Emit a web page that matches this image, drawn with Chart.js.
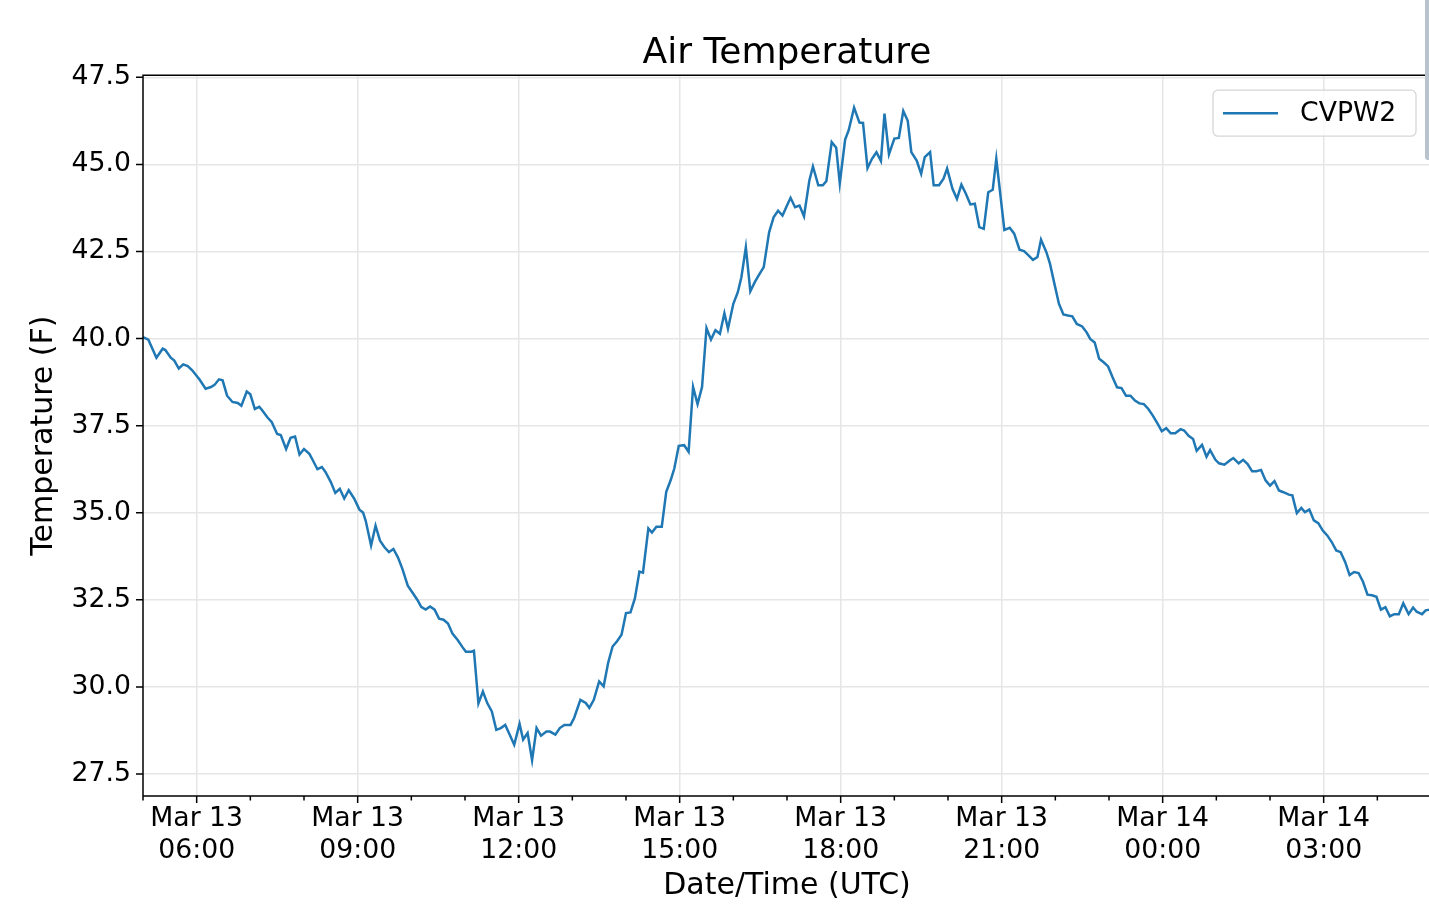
<!DOCTYPE html>
<html>
<head>
<meta charset="utf-8">
<title>Air Temperature</title>
<script src="https://cdn.jsdelivr.net/npm/chart.js@4.4.1/dist/chart.umd.min.js"></script>
<style>
    html, body { margin: 0; padding: 0; background: #fff; overflow: hidden; }
    #wrap { position: relative; width: 1440px; height: 915px; }
    #edge { position: absolute; left: 1425px; top: 0; width: 4px; height: 160px; background: #b9c3cd; border-bottom-left-radius: 3px; }
</style>
</head>
<body>
<div id="wrap">
    <canvas id="myChart" width="1440" height="915" style="width:1440px;height:915px"></canvas>
    <div id="edge"></div>
</div>
<script>
// minutes after Mar 13 05:00 UTC
var times = [
    0, 6, 15, 22, 25, 31, 35, 40, 45, 50, 55, 63, 70, 76, 80, 85, 89, 94, 100, 106,
    110, 116, 120, 125, 130, 133, 139, 144, 150, 154, 160, 165, 170, 175, 180, 186, 189, 195, 200, 204,
    210, 215, 220, 225, 230, 236, 242, 246, 249, 255, 260, 265, 270, 275, 280, 285, 290, 296, 301, 307,
    311, 316, 321, 326, 331, 336, 341, 346, 352, 357, 361, 367, 370, 375, 380, 385, 390, 395, 400, 405,
    410, 415, 421, 425, 430, 435, 440, 445, 451, 455, 461, 466, 471, 478, 482, 489, 495, 499, 504, 510,
    515, 520, 525, 530, 535, 540, 545, 550, 555, 559, 565, 569, 574, 580, 585, 590, 594, 599, 605, 610,
    615, 620, 625, 630, 635, 640, 645, 650, 654, 660, 665, 669, 674, 679, 684, 689, 694, 700, 705, 710,
    715, 720, 724, 729, 734, 739, 745, 749, 755, 760, 764, 770, 775, 779, 785, 789, 795, 801, 805, 810,
    815, 820, 825, 829, 834, 840, 845, 850, 855, 859, 865, 870, 874, 880, 884, 890, 895, 899, 905, 910,
    915, 920, 925, 930, 935, 940, 945, 950, 954, 963, 969, 974, 980, 985, 990, 995, 1000, 1004, 1010, 1014,
    1019, 1024, 1029, 1034, 1039, 1044, 1050, 1055, 1059, 1064, 1069, 1074, 1079, 1084, 1089, 1094, 1099, 1104, 1109, 1114,
    1119, 1124, 1129, 1134, 1139, 1144, 1149, 1154, 1160, 1164, 1169, 1174, 1178, 1184, 1189, 1193, 1199, 1203, 1209, 1215,
    1219, 1225, 1230, 1235, 1240, 1245, 1250, 1255, 1260, 1265, 1270, 1275, 1281, 1285, 1290, 1295, 1299, 1304, 1309, 1314,
    1319, 1324, 1329, 1334, 1339, 1344, 1349, 1354, 1359, 1364, 1369, 1374, 1379, 1384, 1389, 1394, 1399, 1404, 1409, 1415,
    1420, 1424, 1430, 1434, 1439
]

var temps = [
    40.04, 39.97, 39.45, 39.71, 39.67, 39.45, 39.37, 39.14, 39.26, 39.21, 39.09, 38.83, 38.56, 38.61, 38.67, 38.83, 38.80, 38.36, 38.18, 38.15,
    38.07, 38.48, 38.40, 37.98, 38.04, 37.95, 37.74, 37.60, 37.26, 37.23, 36.83, 37.15, 37.19, 36.67, 36.83, 36.69, 36.55, 36.25, 36.31, 36.17,
    35.88, 35.57, 35.69, 35.41, 35.65, 35.41, 35.09, 35.01, 34.77, 34.06, 34.63, 34.20, 34.01, 33.87, 33.96, 33.72, 33.39, 32.91, 32.72, 32.49,
    32.30, 32.22, 32.31, 32.22, 31.96, 31.93, 31.82, 31.53, 31.34, 31.15, 31.01, 31.01, 31.04, 29.53, 29.87, 29.53, 29.30, 28.77, 28.82, 28.91,
    28.63, 28.34, 28.94, 28.49, 28.68, 27.90, 28.82, 28.60, 28.72, 28.72, 28.63, 28.82, 28.91, 28.91, 29.11, 29.63, 29.54, 29.40, 29.63, 30.16,
    30.02, 30.69, 31.16, 31.31, 31.50, 32.12, 32.14, 32.55, 33.31, 33.28, 34.55, 34.43, 34.60, 34.60, 35.60, 35.94, 36.27, 36.92, 36.94, 36.75,
    38.61, 38.12, 38.61, 40.30, 39.97, 40.24, 40.14, 40.73, 40.28, 41.00, 41.33, 41.76, 42.62, 41.36, 41.62, 41.84, 42.05, 43.05, 43.48, 43.67,
    43.53, 43.82, 44.04, 43.77, 43.82, 43.51, 44.54, 44.94, 44.40, 44.40, 44.52, 45.64, 45.48, 44.46, 45.71, 45.98, 46.63, 46.20, 46.19, 44.89,
    45.16, 45.35, 45.10, 46.46, 45.29, 45.74, 45.76, 46.53, 46.25, 45.35, 45.11, 44.73, 45.21, 45.35, 44.40, 44.40, 44.59, 44.88, 44.30, 44.01,
    44.42, 44.16, 43.85, 43.87, 43.20, 43.15, 44.20, 44.27, 45.16, 43.12, 43.18, 43.01, 42.55, 42.51, 42.39, 42.26, 42.34, 42.84, 42.48, 42.15,
    41.57, 41.00, 40.69, 40.66, 40.64, 40.42, 40.35, 40.18, 39.99, 39.89, 39.42, 39.32, 39.20, 38.89, 38.60, 38.58, 38.36, 38.36, 38.22, 38.14,
    38.12, 37.98, 37.79, 37.57, 37.34, 37.43, 37.28, 37.28, 37.40, 37.36, 37.21, 37.12, 36.78, 36.95, 36.61, 36.80, 36.52, 36.42, 36.38, 36.50,
    36.57, 36.42, 36.52, 36.40, 36.19, 36.19, 36.23, 35.93, 35.78, 35.91, 35.64, 35.59, 35.52, 35.50, 34.99, 35.14, 35.02, 35.09, 34.78, 34.70,
    34.49, 34.35, 34.16, 33.92, 33.87, 33.59, 33.21, 33.30, 33.27, 33.02, 32.65, 32.63, 32.59, 32.22, 32.29, 32.03, 32.09, 32.09, 32.40, 32.09,
    32.28, 32.16, 32.09, 32.20, 32.22
]

var seriesName = "CVPW2"
var lineColor = "#1f77b4"

// x ticks, every 3 hours
var tickTimes = [60, 240, 420, 600, 780, 960, 1140, 1320]
var tickLabels = [
    ["Mar 13", "06:00"], ["Mar 13", "09:00"], ["Mar 13", "12:00"], ["Mar 13", "15:00"],
    ["Mar 13", "18:00"], ["Mar 13", "21:00"], ["Mar 14", "00:00"], ["Mar 14", "03:00"]
]
var yTicks = [27.5, 30.0, 32.5, 35.0, 37.5, 40.0, 42.5, 45.0, 47.5]

var points = times.map((t, i) => ({ x: t, y: temps[i] }))

var fontFam = "'DejaVu Sans', Verdana, sans-serif"

// spines, tick marks and the boxed legend ==>
var framePlugin = {
    id: "frame",
    afterDraw: function (chart) {
        var ctx = chart.ctx
        var a = chart.chartArea
        var xs = chart.scales.x
        var ys = chart.scales.y
        ctx.save()
        ctx.strokeStyle = "#000"
        ctx.lineWidth = 1.5
        ctx.beginPath()
        ctx.moveTo(a.left, a.bottom)
        ctx.lineTo(a.left, a.top)
        ctx.lineTo(a.right, a.top)
        ctx.moveTo(a.left, a.bottom)
        ctx.lineTo(a.right, a.bottom)
        for (var h = 0; h <= 24; h++) {
            var px = xs.getPixelForValue(h * 60)
            var len = tickTimes.indexOf(h * 60) >= 0 ? 7 : 4.5
            ctx.moveTo(px, a.bottom)
            ctx.lineTo(px, a.bottom + len)
        }
        yTicks.forEach((v) => {
            var py = ys.getPixelForValue(v)
            ctx.moveTo(a.left, py)
            ctx.lineTo(a.left - 7, py)
        })
        ctx.stroke()

        // legend
        var bw = 203, bh = 46
        var bx = a.right - 15 - bw
        var by = a.top + 15
        ctx.beginPath()
        ctx.roundRect(bx, by, bw, bh, 5)
        ctx.fillStyle = "rgba(255,255,255,0.8)"
        ctx.fill()
        ctx.strokeStyle = "#d6d6d6"
        ctx.lineWidth = 1.3
        ctx.stroke()
        var ds = chart.data.datasets[0]
        ctx.beginPath()
        ctx.strokeStyle = ds.borderColor
        ctx.lineWidth = ds.borderWidth
        ctx.moveTo(bx + 10, by + bh / 2)
        ctx.lineTo(bx + 65, by + bh / 2)
        ctx.stroke()
        ctx.fillStyle = "#000"
        ctx.font = "26.7px " + fontFam
        ctx.textBaseline = "middle"
        ctx.textAlign = "left"
        ctx.fillText(ds.label, bx + 87, by + bh / 2 + 1)
        ctx.restore()
    }
}

const ctx = document.getElementById("myChart")
new Chart(ctx, {
    type: "line",
    data: {
        datasets: [{
            label: seriesName,
            data: points,
            borderColor: lineColor,
            borderWidth: 2.5,
            pointRadius: 0,
            fill: false,
            tension: 0
        }]
    },
    options: {
        responsive: false,
        animation: false,
        devicePixelRatio: 1,
        layout: { padding: { left: 22, right: 9, top: 0, bottom: 10 } },
        plugins: {
            legend: { display: false },
            tooltip: { enabled: false },
            title: {
                display: true,
                text: "Air Temperature",
                fullSize: false,
                color: "#000",
                font: { family: fontFam, size: 36, weight: "normal", lineHeight: 1.2 },
                padding: { top: 32, bottom: 0 }
            }
        },
        scales: {
            x: {
                type: "linear",
                min: 0,
                max: 1440,
                bounds: "data",
                afterBuildTicks: function (s) {
                    s.ticks = tickTimes.map((v) => ({ value: v }))
                },
                afterFit: function (s) { s.height = 109 },
                ticks: {
                    autoSkip: false,
                    maxRotation: 0,
                    padding: 7,
                    color: "#000",
                    font: { family: fontFam, size: 26.7, lineHeight: 1.2 },
                    callback: function (v) { return tickLabels[tickTimes.indexOf(v)] }
                },
                grid: { color: "#e6e6e6", lineWidth: 1.5, drawTicks: false },
                border: { display: false },
                title: {
                    display: true,
                    text: "Date/Time (UTC)",
                    color: "#000",
                    font: { family: fontFam, size: 30, lineHeight: 1.2 },
                    padding: { top: 4, bottom: 1 }
                }
            },
            y: {
                min: 26.87,
                max: 47.56,
                bounds: "data",
                afterBuildTicks: function (s) {
                    s.ticks = yTicks.map((v) => ({ value: v }))
                },
                afterFit: function (s) { s.width = 121 },
                ticks: {
                    padding: 12,
                    color: "#000",
                    font: { family: fontFam, size: 26.7 },
                    callback: function (v) { return v.toFixed(1) }
                },
                grid: { color: "#e6e6e6", lineWidth: 1.5, drawTicks: false },
                border: { display: false },
                title: {
                    display: true,
                    text: "Temperature (F)",
                    color: "#000",
                    font: { family: fontFam, size: 30, lineHeight: 1.2 },
                    padding: { top: 4, bottom: 4 }
                }
            }
        }
    },
    plugins: [framePlugin]
})
</script>
</body>
</html>
